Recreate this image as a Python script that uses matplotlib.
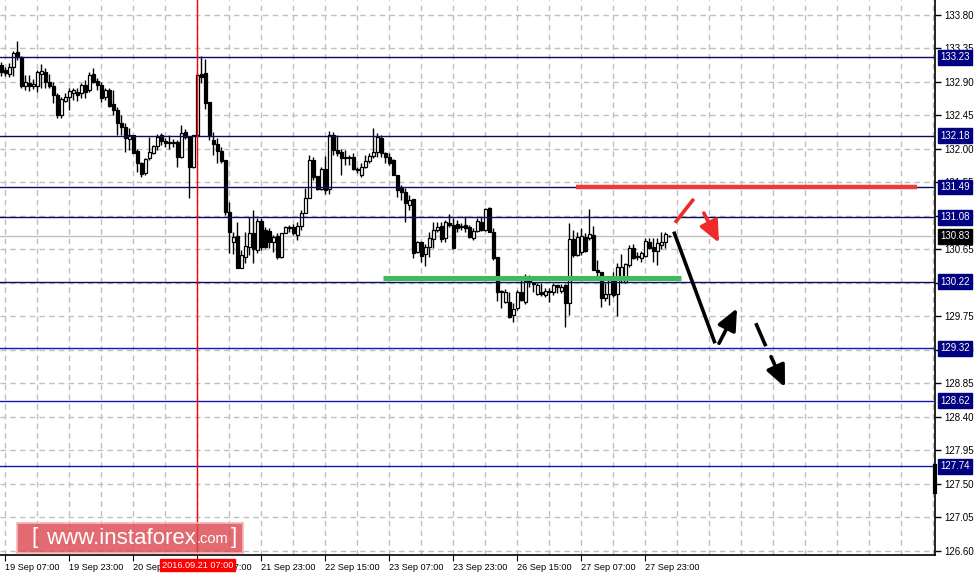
import matplotlib
matplotlib.use("Agg")
import numpy as np
import matplotlib.pyplot as plt
from matplotlib.patches import Rectangle

plt.rcParams['font.family'] = ['Liberation Sans', 'DejaVu Sans']

# H1 candles, 19 Sep 06:00 .. 27 Sep 23:00
opens = [133.13, 133.06, 133.01, 133.10, 133.30, 133.24, 132.85, 132.89, 132.85, 132.85,
         133.01, 133.03, 132.90, 132.85, 132.73, 132.46, 132.64, 132.70, 132.75, 132.77,
         132.75, 132.86, 132.79, 133.01, 132.91, 132.86, 132.70, 132.79, 132.60, 132.52,
         132.35, 132.30, 132.13, 132.19, 131.97, 131.81, 131.68, 131.88, 131.95, 132.04,
         132.19, 132.11, 132.09, 132.08, 132.09, 131.89, 132.23, 132.16, 131.76, 132.19,
         133.01, 133.02, 132.63, 132.12, 132.07, 131.97, 131.85, 131.15, 130.75, 130.83,
         130.40, 130.55, 130.68, 130.87, 130.64, 131.03, 130.91, 130.90, 130.75, 130.83,
         130.55, 130.87, 130.95, 130.95, 130.84, 130.97, 131.14, 131.34, 131.85, 131.64,
         131.46, 131.73, 131.46, 132.19, 131.99, 131.96, 131.89, 131.89, 131.89, 131.73,
         131.65, 131.76, 131.84, 131.91, 131.96, 132.15, 131.95, 131.89, 131.85, 131.65,
         131.48, 131.42, 131.25, 131.33, 130.62, 130.75, 130.59, 130.68, 130.79, 130.91,
         130.97, 130.80, 131.01, 130.98, 130.99, 130.97, 130.98, 130.95, 130.80, 130.90,
         131.02, 130.91, 131.21, 130.89, 130.55, 130.09, 129.94, 129.94, 129.77, 129.86,
         130.08, 129.94, 130.27, 130.20, 130.05, 130.08, 130.04, 130.09, 130.08, 130.17,
         130.09, 130.17, 129.93, 130.79, 130.58, 130.62, 130.82, 130.80, 130.84, 130.37,
         130.35, 130.00, 130.05, 130.24, 130.05, 130.28, 130.21, 130.44, 130.67, 130.56,
         130.54, 130.56, 130.75, 130.68, 130.63, 130.71, 130.75, 130.83]
highs = [133.17, 133.10, 133.16, 133.32, 133.45, 133.25, 132.99, 132.99, 132.94, 133.06,
         133.14, 133.09, 133.01, 132.90, 132.75, 132.70, 132.75, 132.82, 132.82, 132.82,
         132.89, 132.93, 133.03, 133.09, 132.95, 132.90, 132.82, 132.82, 132.79, 132.56,
         132.46, 132.35, 132.28, 132.19, 132.00, 131.83, 131.88, 132.16, 132.05, 132.20,
         132.21, 132.15, 132.19, 132.13, 132.12, 132.32, 132.27, 132.17, 132.19, 133.02,
         133.25, 133.21, 132.63, 132.23, 132.15, 132.03, 131.85, 131.29, 130.89, 131.02,
         130.64, 130.89, 131.09, 131.18, 131.07, 131.07, 130.95, 130.94, 130.84, 130.87,
         130.87, 130.97, 130.98, 130.99, 131.02, 131.18, 131.48, 131.92, 131.89, 131.64,
         131.76, 131.91, 132.24, 132.23, 132.19, 132.00, 131.99, 131.92, 131.95, 131.76,
         131.81, 131.92, 131.95, 132.28, 132.21, 132.19, 131.96, 131.95, 131.87, 131.65,
         131.52, 131.48, 131.38, 131.33, 130.76, 130.76, 130.72, 130.89, 131.02, 131.02,
         131.02, 131.05, 131.13, 131.07, 131.05, 131.01, 131.10, 130.98, 130.94, 131.07,
         131.09, 131.21, 131.22, 130.94, 130.55, 130.11, 130.12, 130.08, 129.93, 130.11,
         130.27, 130.32, 130.31, 130.21, 130.20, 130.20, 130.13, 130.13, 130.20, 130.17,
         130.19, 130.19, 131.01, 130.91, 130.89, 130.94, 130.87, 131.19, 130.97, 130.51,
         130.35, 130.20, 130.27, 130.35, 130.47, 130.59, 130.47, 130.71, 130.72, 130.62,
         130.63, 130.80, 130.80, 130.80, 130.80, 130.89, 130.89, 130.84]
lows = [132.98, 132.98, 132.97, 132.98, 133.20, 132.82, 132.79, 132.78, 132.81, 132.77,
        132.82, 132.82, 132.82, 132.62, 132.42, 132.42, 132.63, 132.52, 132.66, 132.64,
        132.69, 132.69, 132.77, 132.89, 132.79, 132.63, 132.66, 132.56, 132.46, 132.19,
        132.19, 131.96, 131.99, 131.95, 131.69, 131.62, 131.65, 131.85, 131.93, 131.99,
        132.05, 132.03, 132.00, 132.03, 131.76, 131.88, 132.13, 131.34, 131.74, 132.17,
        132.89, 132.54, 132.12, 131.92, 131.81, 131.81, 131.11, 130.60, 130.59, 130.40,
        130.40, 130.47, 130.58, 130.47, 130.60, 130.64, 130.67, 130.67, 130.62, 130.52,
        130.54, 130.87, 130.89, 130.84, 130.78, 130.91, 131.14, 131.34, 131.58, 131.45,
        131.45, 131.40, 131.40, 131.92, 131.91, 131.65, 131.79, 131.79, 131.72, 131.68,
        131.62, 131.74, 131.81, 131.88, 131.89, 131.89, 131.81, 131.79, 131.65, 131.36,
        131.31, 131.02, 131.18, 130.54, 130.60, 130.48, 130.43, 130.55, 130.67, 130.89,
        130.75, 130.75, 130.95, 130.66, 130.89, 130.91, 130.89, 130.80, 130.78, 130.89,
        130.90, 130.90, 130.89, 130.51, 129.96, 129.86, 129.93, 129.73, 129.68, 129.84,
        129.96, 129.92, 130.15, 130.08, 130.04, 130.03, 130.01, 129.94, 130.04, 130.07,
        130.07, 129.61, 129.77, 130.55, 130.56, 130.58, 130.62, 130.78, 130.37, 130.28,
        129.88, 129.96, 129.90, 130.01, 129.76, 130.20, 130.20, 130.41, 130.52, 130.51,
        130.48, 130.55, 130.66, 130.48, 130.44, 130.66, 130.67, 130.82]
closes = [133.03, 133.02, 133.10, 133.29, 133.24, 132.85, 132.90, 132.85, 132.87, 133.03,
          133.05, 132.90, 132.85, 132.73, 132.46, 132.67, 132.70, 132.78, 132.79, 132.73,
          132.86, 132.77, 132.99, 132.90, 132.86, 132.69, 132.79, 132.58, 132.52, 132.35,
          132.30, 132.15, 132.19, 131.95, 131.81, 131.66, 131.87, 131.96, 132.04, 132.16,
          132.11, 132.08, 132.08, 132.09, 131.89, 132.21, 132.16, 131.76, 132.19, 132.99,
          132.97, 132.62, 132.19, 132.07, 131.97, 131.84, 131.15, 130.89, 130.82, 130.40,
          130.58, 130.70, 130.87, 130.66, 131.03, 130.68, 130.68, 130.75, 130.82, 130.55,
          130.87, 130.95, 130.94, 130.87, 130.97, 131.14, 131.34, 131.85, 131.62, 131.46,
          131.73, 131.45, 132.19, 131.99, 131.95, 131.88, 131.88, 131.88, 131.73, 131.72,
          131.76, 131.84, 131.91, 131.96, 132.16, 131.95, 131.89, 131.81, 131.65, 131.45,
          131.42, 131.27, 131.31, 130.60, 130.75, 130.56, 130.68, 130.80, 130.91, 130.95,
          130.79, 131.02, 130.98, 130.67, 130.94, 130.95, 130.94, 130.82, 130.90, 131.03,
          130.91, 131.19, 130.89, 130.54, 130.08, 130.08, 130.08, 129.74, 129.85, 130.08,
          129.97, 130.23, 130.21, 130.19, 130.17, 130.05, 130.09, 130.08, 130.17, 130.15,
          130.15, 129.93, 130.79, 130.58, 130.82, 130.83, 130.63, 130.86, 130.37, 130.35,
          130.00, 130.05, 130.24, 130.04, 130.41, 130.41, 130.46, 130.67, 130.54, 130.55,
          130.60, 130.76, 130.67, 130.63, 130.74, 130.75, 130.86, 130.83]

time_labels = ["19 Sep 07:00", "19 Sep 23:00", "20 Sep 15:00", "21 Sep 07:00",
               "21 Sep 23:00", "22 Sep 15:00", "23 Sep 07:00", "23 Sep 23:00",
               "26 Sep 15:00", "27 Sep 07:00", "27 Sep 23:00"]
label_bars = [1, 17, 33, 49, 65, 81, 97, 113, 129, 145, 161]
price_ticks = [133.80, 133.35, 132.90, 132.45, 132.00, 131.55, 131.10, 130.65, 130.20,
               129.75, 129.30, 128.85, 128.40, 127.95, 127.50, 127.05, 126.60]
levels_upper = [133.23, 132.18, 131.49, 131.08, 130.22]
levels_lower = [129.32, 128.62, 127.74]
last_price = 130.83
cursor_bar = 49
cursor_text = "2016.09.21 07:00"

resistance = 131.49
resistance_bars = [143.6, 228.9]
support = 130.27
support_bars = [95.4, 169.9]

# forecast sketch (bar, price)
black_drop = [(168.1, 130.89), (178.4, 129.39)]
black_up = [(179.4, 129.39), (183.9, 129.86)]
red_up = [(168.4, 131.01), (173.1, 131.33)]
red_down = [(175.6, 131.14), (179.4, 130.74)]
dash_seg = [(188.6, 129.66), (191.1, 129.35)]
dash_arrow = [(192.4, 129.21), (195.9, 128.80)]

FS = 7.0

fig = plt.figure(figsize=(9.77, 5.76), dpi=100)
ax = fig.add_axes([0, 21 / 576, 935 / 977, 555 / 576])
ax.set_xlim(-0.375, 233.4)
ax.set_ylim(126.546, 134.0015)

grid_kw = dict(color='#c0c0c0', linestyle=(0, (4, 3)), linewidth=1)
ax.set_yticks(price_ticks)
ax.set_yticklabels(["%.2f" % p for p in price_ticks])
ax.set_xticks(label_bars)
ax.set_xticklabels(time_labels, ha='left')
ax.set_xticks(list(range(1, 234, 8)), minor=True)
ax.grid(True, which='both', axis='x', **grid_kw)
ax.grid(True, which='major', axis='y', **grid_kw)
ax.set_axisbelow(True)

ax.yaxis.tick_right()
ax.tick_params(axis='y', direction='out', length=4, width=1, pad=3, labelsize=FS, colors='black')
ax.tick_params(axis='x', which='major', direction='out', length=4, pad=2, labelsize=6.6)
ax.tick_params(axis='x', which='minor', length=0)
for s in ['top', 'left']:
    ax.spines[s].set_visible(False)
ax.spines['right'].set_linewidth(1.2)
ax.spines['bottom'].set_linewidth(1.2)

# current price line
ax.axhline(last_price, color='#c0c0c0', lw=1, zorder=1)

# candles
x = np.arange(len(closes))
o = np.array(opens)
c = np.array(closes)
up = c >= o
ax.vlines(x, lows, highs, color='black', lw=1, zorder=3)
ax.bar(x, np.maximum(np.abs(c - o), 0.006), 0.55, bottom=np.minimum(o, c),
       color=np.where(up, 'white', 'black'), edgecolor='black', linewidth=0.9, zorder=4)

# horizontal levels
for lv in levels_upper:
    ax.axhline(lv, color='#0b0b5e', lw=1, zorder=5)
for lv in levels_lower:
    ax.axhline(lv, color='#1818b0', lw=1, zorder=5)

for lv in levels_upper + levels_lower:
    ax.annotate("%.2f" % lv, xy=(1, lv), xycoords=('axes fraction', 'data'),
                xytext=(5, 0), textcoords='offset pixels', va='center', ha='left',
                fontsize=FS, color='white', annotation_clip=False, zorder=10,
                bbox=dict(boxstyle='square,pad=0.25', fc='#000080', ec='#000080'))
ax.annotate("%.2f" % last_price, xy=(1, last_price), xycoords=('axes fraction', 'data'),
            xytext=(5, 0), textcoords='offset pixels', va='center', ha='left',
            fontsize=FS, color='white', annotation_clip=False, zorder=10,
            bbox=dict(boxstyle='square,pad=0.25', fc='black', ec='black'))

# crosshair
ax.axvline(cursor_bar, color='red', lw=1, zorder=6)

# small marker on price scale
ax.plot([233.4, 233.4], [127.39, 127.74], color='black', lw=3, clip_on=False, zorder=9)

# support / resistance
ax.plot(resistance_bars, [resistance, resistance], color='#f03a3a', lw=3.2,
        solid_capstyle='butt', zorder=7)
ax.plot(support_bars, [support, support], color='#3dbb5a', lw=3.6,
        solid_capstyle='butt', zorder=7)

# forecast arrows
def seg(pts, col):
    ax.plot([p[0] for p in pts], [p[1] for p in pts], color=col, lw=2.6,
            solid_capstyle='butt', zorder=8)

def arrow(pts, col):
    ax.annotate("", xy=pts[1], xytext=pts[0], zorder=8,
                arrowprops=dict(arrowstyle='-|>,head_length=1.0,head_width=0.45',
                                color=col, lw=2.6, mutation_scale=13,
                                shrinkA=0, shrinkB=0))

seg(black_drop, 'black')
arrow(black_up, 'black')
seg(red_up, '#ee2a2a')
arrow(red_down, '#ee2a2a')
seg(dash_seg, 'black')
arrow(dash_arrow, 'black')

# watermark (sits above the time axis line)
fig.patches.append(Rectangle((17 / 977, 23 / 576), 226 / 977, 30 / 576,
                             transform=fig.transFigure, fc='#dc4a52', ec='#f2b8bb',
                             lw=1.5, alpha=0.82, zorder=20))
fig.text(31 / 977, 38 / 576, "[", color='white', fontsize=16, va='center', zorder=21)
fig.text(46 / 977, 38 / 576, "www.instaforex", color='white', fontsize=16,
         va='center', zorder=21)
fig.text(197 / 977, 37 / 576, ".com", color='white', fontsize=10.5, va='center', zorder=21)
fig.text(231 / 977, 38 / 576, "]", color='white', fontsize=16, va='center', zorder=21)

# cursor time label on the time scale, drawn over everything
fig.text((1.5 + 4 * cursor_bar) / 977, 11 / 576, cursor_text, ha='center', va='center',
         fontsize=6.6, color='white', zorder=30,
         bbox=dict(boxstyle='square,pad=0.2', fc='#ff0000', ec='#ff0000'))

fig.savefig("out.png", dpi=100, facecolor='white')
